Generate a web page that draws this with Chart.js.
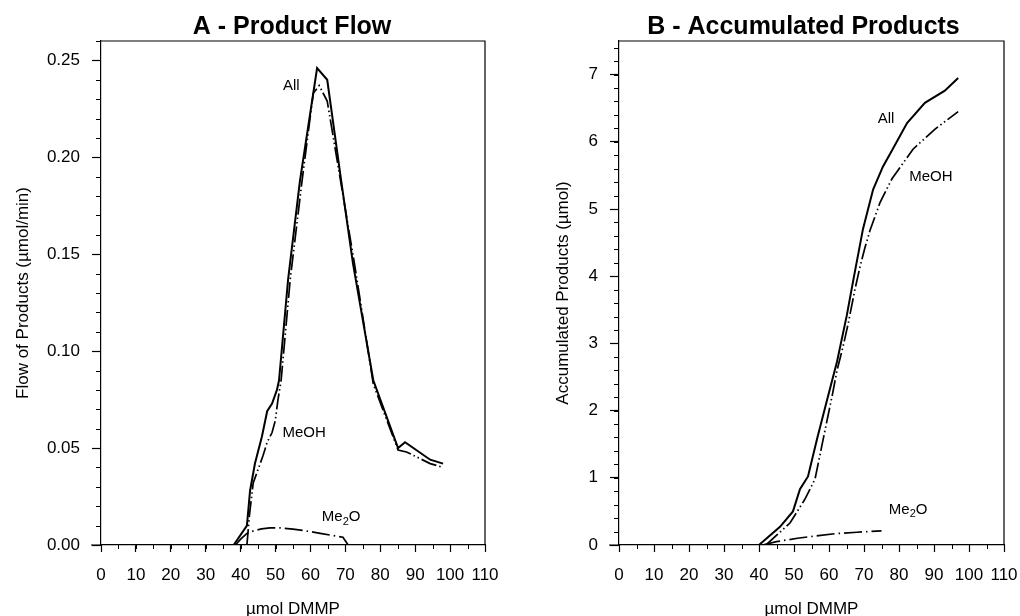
<!DOCTYPE html>
<html>
<head>
<meta charset="utf-8">
<script src="https://cdn.jsdelivr.net/npm/chart.js@4.4.1/dist/chart.umd.min.js"></script>
<style>
    html, body { margin: 0; padding: 0; background: #fff; overflow: hidden; }
    canvas { position: absolute; top: 0; }
    #chartA { left: 0; }
    #chartB { left: 510px; }
</style>
</head>
<body>
<canvas id="chartA" width="510" height="630"></canvas>
<canvas id="chartB" width="510" height="630"></canvas>
<script>
'use strict';

// A - Product Flow (umol/min) vs umol DMMP
const flowAllX = [38, 41.8, 42.7, 44.1, 46.1, 47.6, 49.0, 50.4, 51.0, 53.6, 57.0, 61.9, 64.8, 68.8, 72.2, 78.0, 85.1, 87.1, 94.3, 98];
const flowAllY = [0, 0.010, 0.028, 0.042, 0.056, 0.069, 0.073, 0.080, 0.085, 0.137, 0.188, 0.246, 0.240, 0.188, 0.145, 0.085, 0.050, 0.053, 0.044, 0.042];
const flowMeohX = [41.8, 42.5, 43.6, 46.4, 47.6, 49.0, 49.9, 50.7, 51.6, 54.2, 57.6, 60.8, 62.5, 64.8, 68.8, 72.8, 78.0, 85.1, 87.5, 94.3, 98];
const flowMeohY = [0, 0.015, 0.032, 0.046, 0.053, 0.058, 0.064, 0.075, 0.085, 0.137, 0.188, 0.233, 0.237, 0.229, 0.186, 0.143, 0.083, 0.049, 0.048, 0.042, 0.040];
const flowMe2oX = [38.5, 40, 41.8, 44, 46, 48.4, 51.3, 55, 59, 62.8, 66, 69.3, 70.8];
const flowMe2oY = [0, 0.003, 0.006, 0.0075, 0.0083, 0.0088, 0.0088, 0.0082, 0.0072, 0.006, 0.005, 0.004, 0];

// B - Accumulated Products (umol) vs umol DMMP
const accAllX = [40, 46, 49.7, 51.7, 54, 56.6, 59.7, 62.3, 65.1, 66.9, 69.7, 72.6, 75.4, 78.3, 82.3, 87.4, 93.1, 96.9];
const accAllY = [0, 0.27, 0.50, 0.83, 1.02, 1.58, 2.21, 2.73, 3.42, 3.93, 4.70, 5.29, 5.63, 5.90, 6.28, 6.58, 6.76, 6.95];
const accMeohX = [42, 48.9, 53.1, 56, 59.7, 60.9, 62.3, 64, 65.5, 67.4, 68.9, 70.3, 71.7, 74.6, 78, 84, 90.3, 96.9];
const accMeohY = [0, 0.33, 0.68, 0.98, 1.92, 2.22, 2.60, 2.95, 3.30, 3.80, 4.15, 4.43, 4.68, 5.10, 5.45, 5.89, 6.19, 6.45];
const accMe2oX = [41, 45, 51, 57, 62, 68, 75];
const accMe2oY = [0, 0.05, 0.10, 0.14, 0.17, 0.19, 0.21];

const xTicks = [0, 10, 20, 30, 40, 50, 60, 70, 80, 90, 100, 110];

const FONT = "'Liberation Sans', Arial, sans-serif";

function toPoints(xs, ys) {
    return xs.map((x, i) => ({x: x, y: ys[i]}));
}

function lineSet(label, xs, ys, dash, width) {
    return {
        label: label,
        data: toPoints(xs, ys),
        borderColor: '#000',
        borderWidth: width,
        borderDash: dash,
        pointRadius: 0,
        tension: 0,
        fill: false
    };
}

// minor ticks, frame, title and the curve labels
const panelDecor = {
    id: 'panelDecor',
    afterDraw(chart, args, opts) {
        const ctx = chart.ctx;
        const area = chart.chartArea;
        const xs = chart.scales.x;
        const ys = chart.scales.y;
        ctx.save();
        ctx.strokeStyle = '#000';
        ctx.lineWidth = 1;
        // minor ticks
        for (let v = xs.min; v <= xs.max + 1e-9; v += opts.xMinor) {
            const px = Math.round(xs.getPixelForValue(v)) + 0.5;
            ctx.beginPath();
            ctx.moveTo(px, area.bottom);
            ctx.lineTo(px, area.bottom + 4);
            ctx.stroke();
        }
        for (let v = ys.min; v <= ys.max + 1e-9; v += opts.yMinor) {
            const py = Math.round(ys.getPixelForValue(v)) + 0.5;
            ctx.beginPath();
            ctx.moveTo(area.left, py);
            ctx.lineTo(area.left - 5, py);
            ctx.stroke();
        }
        // top and right frame, x axis stub left of the y axis
        ctx.lineWidth = 1.2;
        ctx.beginPath();
        ctx.moveTo(area.left, area.top);
        ctx.lineTo(area.right, area.top);
        ctx.lineTo(area.right, area.bottom);
        ctx.moveTo(area.left - 10, area.bottom);
        ctx.lineTo(area.left, area.bottom);
        ctx.stroke();
        // title
        ctx.fillStyle = '#000';
        ctx.textAlign = 'center';
        ctx.textBaseline = 'middle';
        ctx.font = 'bold 25px ' + FONT;
        ctx.fillText(opts.title, (area.left + area.right) / 2 + opts.titleDx, 27);
        // curve labels
        ctx.font = '15px ' + FONT;
        opts.labels.forEach(function (l) {
            const px = xs.getPixelForValue(l.x);
            const py = ys.getPixelForValue(l.y);
            if (l.sub) {
                const a = 'Me', b = '2', c = 'O';
                ctx.font = '15px ' + FONT;
                const wa = ctx.measureText(a).width;
                const wc = ctx.measureText(c).width;
                ctx.font = '11px ' + FONT;
                const wb = ctx.measureText(b).width;
                let x0 = px - (wa + wb + wc) / 2;
                ctx.textAlign = 'left';
                ctx.font = '15px ' + FONT;
                ctx.fillText(a, x0, py);
                ctx.font = '11px ' + FONT;
                ctx.fillText(b, x0 + wa, py + 5);
                ctx.font = '15px ' + FONT;
                ctx.fillText(c, x0 + wa + wb, py);
                ctx.textAlign = 'center';
            } else {
                ctx.fillText(l.text, px, py);
            }
        });
        ctx.restore();
    }
};

function makeChart(id, cfg) {
    return new Chart(document.getElementById(id), {
        type: 'line',
        data: {datasets: cfg.datasets},
        plugins: [panelDecor],
        options: {
            responsive: false,
            animation: false,
            devicePixelRatio: 1,
            layout: {padding: {top: 41, right: cfg.padRight, left: 0, bottom: 0}},
            plugins: {
                legend: {display: false},
                tooltip: {enabled: false},
                title: {display: false},
                panelDecor: cfg.decor
            },
            scales: {
                x: {
                    type: 'linear',
                    min: 0,
                    max: 110,
                    afterFit: function (scale) {
                        scale.height = 85;
                        scale.paddingLeft = 0;
                        scale.paddingRight = 0;
                    },
                    afterBuildTicks: function (scale) {
                        scale.ticks = xTicks.map(v => ({value: v}));
                    },
                    border: {display: true, color: '#000', width: 1.2},
                    grid: {display: true, drawOnChartArea: false, drawTicks: true, tickLength: 7, color: '#000', tickColor: '#000', tickWidth: 1.2},
                    ticks: {
                        autoSkip: false, maxRotation: 0, padding: 13, color: '#000',
                        font: {family: FONT, size: 17}
                    },
                    title: {
                        display: true, text: 'µmol DMMP', color: '#000',
                        font: {family: FONT, size: 17}, padding: {top: 0, bottom: 10}
                    }
                },
                y: {
                    type: 'linear',
                    min: 0,
                    max: cfg.yMax,
                    afterFit: function (scale) {
                        scale.width = cfg.yWidth;
                        scale.paddingTop = 0;
                        scale.paddingBottom = 0;
                    },
                    border: {display: true, color: '#000', width: 1.2},
                    grid: {display: true, drawOnChartArea: false, drawTicks: true, tickLength: 9, color: '#000', tickColor: '#000', tickWidth: 1.2},
                    ticks: {
                        stepSize: cfg.yStep, includeBounds: false, padding: 12, color: '#000',
                        font: {family: FONT, size: 17},
                        callback: cfg.yFormat
                    },
                    title: {
                        display: true, text: cfg.yTitle, color: '#000',
                        font: {family: FONT, size: 17}, padding: {top: cfg.yTitlePad, bottom: 0}
                    }
                }
            }
        }
    });
}

makeChart('chartA', {
    datasets: [
        lineSet('All', flowAllX, flowAllY, [], 2),
        lineSet('MeOH', flowMeohX, flowMeohY, [16, 3, 1.5, 3, 1.5, 3], 1.7),
        lineSet('Me2O', flowMe2oX, flowMe2oY, [18, 4, 1.5, 4], 1.7)
    ],
    padRight: 25,
    yMax: 0.26,
    yStep: 0.05,
    yWidth: 101,
    yTitle: 'Flow of Products (µmol/min)',
    yTitlePad: 13,
    yFormat: v => v.toFixed(2),
    decor: {
        xMinor: 5, yMinor: 0.01, title: 'A - Product Flow', titleDx: -1,
        labels: [
            {text: 'All', x: 54.5, y: 0.237},
            {text: 'MeOH', x: 58.2, y: 0.058},
            {text: 'Me2O', sub: true, x: 68.8, y: 0.0144}
        ]
    }
});

makeChart('chartB', {
    datasets: [
        lineSet('All', accAllX, accAllY, [], 2),
        lineSet('MeOH', accMeohX, accMeohY, [16, 3, 1.5, 3, 1.5, 3], 1.7),
        lineSet('Me2O', accMe2oX, accMe2oY, [18, 4, 1.5, 4], 1.7)
    ],
    padRight: 16,
    yMax: 7.5,
    yStep: 1,
    yWidth: 109,
    yTitle: 'Accumulated Products (µmol)',
    yTitlePad: 43,
    yFormat: v => String(v),
    decor: {
        xMinor: 5, yMinor: 0.2, title: 'B - Accumulated Products', titleDx: -8,
        labels: [
            {text: 'All', x: 76.3, y: 6.34},
            {text: 'MeOH', x: 89.1, y: 5.48},
            {text: 'Me2O', sub: true, x: 82.6, y: 0.53}
        ]
    }
});
</script>
</body>
</html>
